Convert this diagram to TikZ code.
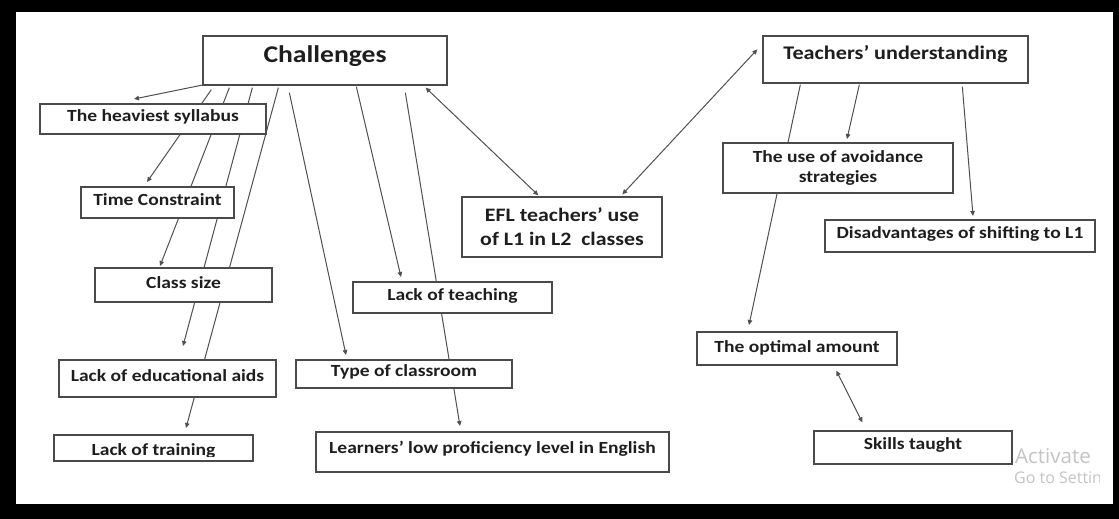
\documentclass[tikz,border=0pt]{standalone}
\usepackage{fontspec}
\usetikzlibrary{arrows.meta,calc}
\newfontfamily\lblfont{Carlito}[FakeStretch=1.15]
\newfontfamily\wmfont{Open Sans}
\definecolor{linec}{HTML}{505050}
\definecolor{boxc}{HTML}{4A4A4A}
\definecolor{txtc}{HTML}{1E1E1E}
\definecolor{wmc}{HTML}{C4C4C4}
\tikzset{
  box/.style={draw=boxc, line width=1.3pt, fill=white, rectangle, inner sep=0pt,
    text=txtc, font=\lblfont\bfseries\fontsize{17}{20}\selectfont},
  conn/.style={draw=linec, line width=1pt, -{Triangle[length=5pt,width=4.5pt]}},
  dconn/.style={draw=linec, line width=1pt, {Triangle[length=5pt,width=4.5pt]}-{Triangle[length=5pt,width=4.5pt]}},
}
\begin{document}
\begin{tikzpicture}[x=1pt,y=-1pt]
\useasboundingbox (0,0) rectangle (1119,519);
\fill[black] (0,0) rectangle (1119,519);
\fill[white] (16,12) rectangle (1113,504);

% named end points of connectors
\coordinate (eHeav) at (134,99);
\coordinate (eTime) at (147,182);
\coordinate (eClass) at (160,266);
\coordinate (eAids) at (183,346);
\coordinate (eTrain) at (186,428);
\coordinate (eType) at (346,355);
\coordinate (eTeach) at (401,277);
\coordinate (eLearn) at (460,426);
\coordinate (eAvoid) at (847,139);
\coordinate (eDis) at (973,216);
\coordinate (eOpt) at (749,325);

% boxes whose connectors start or end on them
\node[box, minimum width=244pt, minimum height=49pt, text height=10pt, text depth=5pt,
  font=\lblfont\bfseries\fontsize{24}{26}\selectfont] (chal) at (325,60.5) {Challenges};
\node[box, minimum width=265pt, minimum height=47pt, text height=6pt, text depth=6pt,
  font=\lblfont\bfseries\fontsize{19.3}{22}\selectfont] (teachu) at (895.5,59.5) {Teachers’ understanding};
\node[box, minimum width=200pt, minimum height=60pt, align=center,
  font=\lblfont\bfseries\fontsize{19}{24}\selectfont] (efl) at (562,227) {EFL teachers’ use\\of L1 in L2~~classes};
\node[box, minimum width=200pt, minimum height=33pt, text height=12pt, text depth=5pt] (opt) at (797,348.5) {The optimal amount};
\node[box, minimum width=198pt, minimum height=33pt, text height=8pt, text depth=5pt] (skills) at (913,447.5) {Skills taught};

% connectors
\draw[conn] ($(chal.south west)+(2,-1)$) -- (eHeav);
\draw[conn] ($(chal.south west)+(9,4)$) -- (eTime);
\draw[conn] ($(chal.south west)+(27,2)$) -- (eClass);
\draw[conn] ($(chal.south west)+(50,2)$) -- (eAids);
\draw[conn] ($(chal.south west)+(76,2)$) -- (eTrain);
\draw[conn] ($(chal.south west)+(87,7)$) -- (eType);
\draw[conn] ($(chal.south west)+(154,1)$) -- (eTeach);
\draw[conn] ($(chal.south west)+(203,7)$) -- (eLearn);
\draw[dconn] ($(chal.south east)+(-22,2)$) -- ($(efl.north west)+(77,-1)$);
\draw[dconn] ($(efl.north west)+(161,-2)$) -- ($(teachu.north west)+(-5,14)$);
\draw[conn] ($(teachu.south west)+(38,1)$) -- (eOpt);
\draw[conn] ($(teachu.south west)+(97,1)$) -- (eAvoid);
\draw[conn] ($(teachu.south west)+(200,3)$) -- (eDis);
\draw[dconn] ($(opt.south west)+(140,5)$) -- ($(skills.north west)+(49,-8)$);

% boxes on top of the lines
\node[box, minimum width=226pt, minimum height=30pt, text height=10pt, text depth=5pt] (heav) at (153,119) {The heaviest syllabus};
\node[box, minimum width=153pt, minimum height=31pt, text height=10pt, text depth=5pt] (time) at (157.5,202.5) {Time Constraint};
\node[box, minimum width=177pt, minimum height=34pt, text height=12pt, text depth=5pt] (class) at (183.5,285) {Class size};
\node[box, minimum width=217pt, minimum height=37pt, text height=10pt, text depth=5pt] (aids) at (167.5,378.5) {Lack of educational aids};
\node[box, minimum width=199pt, minimum height=26pt] (train) at (153.5,448) {};
\begin{scope}
  \clip (54,435) rectangle (253,456.5);
  \node[text=txtc, font=\lblfont\bfseries\fontsize{17}{20}\selectfont, anchor=base] (traintext) at (153.5,455.5) {Lack of training};
\end{scope}
\node[box, minimum width=216pt, minimum height=28pt, text height=10pt, text depth=5pt] (type) at (404,374) {Type of classroom};
\node[box, minimum width=199pt, minimum height=31pt, text height=10pt, text depth=5pt] (teach) at (452.5,297.5) {Lack of teaching};
\node[box, minimum width=353pt, minimum height=40pt, text height=7pt, text depth=5pt] (learn) at (492.5,452) {Learners’ low proficiency level in English};
\node[box, minimum width=230pt, minimum height=50pt, align=center,
  font=\lblfont\bfseries\fontsize{17}{20}\selectfont] (avoid) at (838,168) {The use of avoidance\\strategies};
\node[box, minimum width=270pt, minimum height=32pt, text height=10pt, text depth=5pt] (dis) at (960,236) {Disadvantages of shifting to L1};

% watermark
\node[anchor=base west, text=wmc, font=\wmfont\fontsize{20.5}{22}\selectfont, inner sep=0pt] (wm1) at (1015,463) {Activate};
\begin{scope}
  \clip (1010,465) rectangle (1099,490);
  \node[anchor=base west, text=wmc, font=\wmfont\fontsize{16}{18}\selectfont, inner sep=0pt] (wm2) at (1014,483) {Go to Settin};
\end{scope}
\end{tikzpicture}
\end{document}
